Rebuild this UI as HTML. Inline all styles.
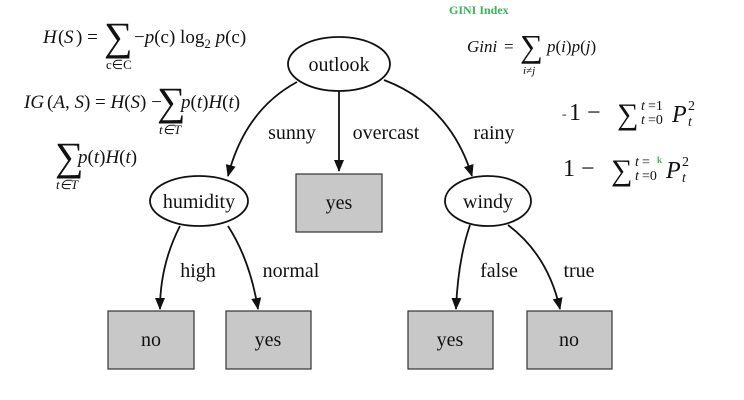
<!DOCTYPE html>
<html><head><meta charset="utf-8"><style>
html,body{margin:0;padding:0;background:#fff;}
svg{display:block;}
text{font-family:"Liberation Serif",serif;fill:#111;}
.f{font-style:italic;}
</style></head><body>
<svg width="744" height="400" viewBox="0 0 744 400" xmlns="http://www.w3.org/2000/svg">
<defs><marker id="a" markerWidth="12" markerHeight="12" refX="11" refY="5" orient="auto" markerUnits="userSpaceOnUse"><path d="M0,0 L12,5 L0,10 z" fill="#111"/></marker></defs>
<g stroke="#111" stroke-width="1.8" fill="none">
<ellipse cx="339" cy="64" rx="51" ry="27" fill="#fff"/>
<ellipse cx="199" cy="201" rx="49" ry="25" fill="#fff"/>
<ellipse cx="488" cy="201" rx="43" ry="25" fill="#fff"/>
<path d="M297,82 Q245,110 228,176" marker-end="url(#a)"/>
<path d="M339,91 L339,171" marker-end="url(#a)"/>
<path d="M384,80 Q450,105 472,176" marker-end="url(#a)"/>
<path d="M180,226 Q160,265 160,309" marker-end="url(#a)"/>
<path d="M228,226 Q250,260 258,309" marker-end="url(#a)"/>
<path d="M470,225 Q458,260 456,309" marker-end="url(#a)"/>
<path d="M508,225 Q548,255 560,309" marker-end="url(#a)"/>
</g>
<g fill="#c8c8c8" stroke="#333" stroke-width="1.2">
<rect x="296" y="174" width="86" height="58"/>
<rect x="108" y="311" width="86" height="58"/>
<rect x="226" y="311" width="85" height="58"/>
<rect x="408" y="311" width="85" height="58"/>
<rect x="527" y="311" width="85" height="58"/>
</g>
<g font-size="20" text-anchor="middle">
<text x="339" y="71">outlook</text>
<text x="199" y="208">humidity</text>
<text x="488" y="208">windy</text>
<text x="339" y="209">yes</text>
<text x="151" y="346">no</text>
<text x="268" y="346">yes</text>
<text x="450" y="346">yes</text>
<text x="569" y="346">no</text>
<text x="292" y="139">sunny</text>
<text x="386" y="139">overcast</text>
<text x="494" y="139">rainy</text>
<text x="198" y="277">high</text>
<text x="291" y="277">normal</text>
<text x="499" y="277">false</text>
<text x="579" y="277">true</text>
</g>
<g font-size="19">
<text x="43" y="43" class="f">H</text><text x="58" y="43">(</text><text x="64" y="43" class="f">S</text><text x="76" y="43">) =</text>
<text x="104" y="50" font-size="40">∑</text>
<text x="134" y="43">−<tspan class="f">p</tspan>(c) log<tspan font-size="13" dy="5">2</tspan><tspan dy="-5"> </tspan><tspan class="f">p</tspan>(c)</text>
<text x="106" y="69" font-size="13" font-family="Liberation Sans">c∈C</text>
<text x="24" y="108" class="f">IG</text><text x="47" y="108">(<tspan class="f">A</tspan>, <tspan class="f">S</tspan>) = <tspan class="f">H</tspan>(<tspan class="f">S</tspan>) −</text>
<text x="157" y="115" font-size="40">∑</text>
<text x="181" y="108"><tspan class="f">p</tspan>(<tspan class="f">t</tspan>)<tspan class="f">H</tspan>(<tspan class="f">t</tspan>)</text>
<text x="159" y="134" font-size="13" class="f">t∈T</text>
<text x="55" y="170" font-size="40">∑</text>
<text x="78" y="163"><tspan class="f">p</tspan>(<tspan class="f">t</tspan>)<tspan class="f">H</tspan>(<tspan class="f">t</tspan>)</text>
<text x="56" y="189" font-size="13" class="f">t∈T</text>
</g>
<text x="449" y="14" font-family="Liberation Sans,sans-serif" font-size="12" font-weight="bold" style="fill:#3cb35a">GINI Index</text>
<g font-size="17">
<text x="467" y="52" class="f" fill="#444">Gini</text><text x="504" y="52">=</text>
<text x="520" y="57" font-size="32">∑</text>
<text x="547" y="52"><tspan class="f">p</tspan>(<tspan class="f">i</tspan>)<tspan class="f">p</tspan>(<tspan class="f">j</tspan>)</text>
<text x="523" y="74" font-size="11" class="f">i≠j</text>
</g>
<g font-family="Liberation Sans,sans-serif" font-size="24">
<text x="562" y="118" font-size="8">=</text>
<text x="569" y="120">1 −</text>
<text x="617" y="124" font-size="30">∑</text>
<text x="641" y="110" font-size="14" class="f">t</text><text x="648" y="110" font-size="14">=1</text>
<text x="641" y="124" font-size="14" class="f">t</text><text x="648" y="124" font-size="14">=0</text>
<text x="672" y="122" class="f">P</text><text x="688" y="110" font-size="14">2</text><text x="688" y="126" font-size="14" class="f">t</text>
<text x="563" y="176">1 −</text>
<text x="611" y="180" font-size="30">∑</text>
<text x="635" y="166" font-size="14" class="f">t</text><text x="642" y="166" font-size="14">=</text><text x="657" y="163" font-size="9" font-weight="bold" style="fill:#3cb35a">k</text>
<text x="635" y="180" font-size="14" class="f">t</text><text x="642" y="180" font-size="14">=0</text>
<text x="666" y="178" class="f">P</text><text x="682" y="166" font-size="14">2</text><text x="682" y="182" font-size="14" class="f">t</text>
</g>
</svg>
</body></html>
